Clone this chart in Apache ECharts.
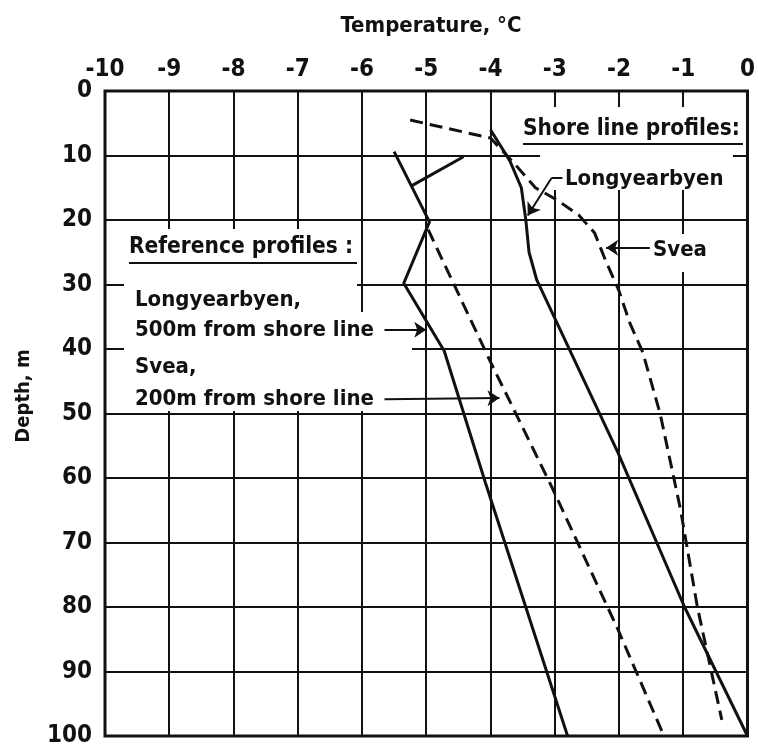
<!DOCTYPE html>
<html>
<head>
<meta charset="utf-8">
<script src="https://cdn.jsdelivr.net/npm/echarts@6/dist/echarts.min.js"></script>
<style>
  html, body { margin: 0; padding: 0; background: #fff; }
  #chart { width: 758px; height: 748px; }
</style>
</head>
<body>
<div id="chart"></div>
<script>
// Ground temperature profiles, Svalbard: [temperature °C, depth m]
const tempTicks = ['-10', '-9', '-8', '-7', '-6', '-5', '-4', '-3', '-2', '-1', '0'];
const depthTicks = ['0', '10', '20', '30', '40', '50', '60', '70', '80', '90', '100'];

// Shore line profiles
const shoreLongyearbyen = [[-4.0, 6.0], [-3.7, 10.8], [-3.52, 15], [-3.45, 20], [-3.4, 25],
  [-3.28, 29.3], [-2.02, 56], [-0.98, 80], [0, 100]];
const shoreSvea = [[-5.25, 4.5], [-4.0, 7.3], [-3.65, 11], [-3.3, 15], [-2.95, 17], [-2.62, 19.3],
  [-2.38, 22], [-2.22, 26], [-2.0, 31], [-1.83, 36], [-1.63, 40.5], [-1.36, 50], [-1.04, 65],
  [-0.78, 80], [-0.4, 97.5]];

// Reference profiles
const refLongyearbyen = [[-5.5, 9.4], [-4.95, 20.3], [-5.35, 29.8], [-4.72, 40.3], [-4.08, 60.7], [-2.8, 100]];
const refLongyearbyenSpur = [[-5.23, 14.7], [-4.42, 10.2]];
const refSvea = [[-4.97, 21.5], [-4.0, 42], [-3.05, 61.3], [-2.02, 83.4], [-1.3, 100]];

// Label leaders: [from, to] in temperature/depth
const leaderPlain = [[[-2.88, 13.5], [-3.05, 13.5]]];
const leaderArrows = [
  [[-3.05, 13.5], [-3.42, 19.3]],
  [[-1.52, 24.3], [-2.2, 24.3]],
  [[-5.65, 37.0], [-5.0, 37.0]],
  [[-5.65, 47.8], [-3.86, 47.6]]
];

const FONT = '"DejaVu Sans Condensed", "DejaVu Sans", sans-serif';
const TICK_FONT = '"Liberation Sans Narrow", "DejaVu Sans Condensed", sans-serif';
const INK = '#111';

function txt(x, y, s, size, align) {
  return {
    type: 'text', z: 10, x: x, y: y,
    style: { text: s, fill: INK, font: 'bold ' + size + 'px ' + FONT,
      textAlign: align || 'left', textVerticalAlign: 'middle' }
  };
}
function blank(x, y, w, h) {
  return { type: 'rect', z: 1, shape: { x: x, y: y, width: w, height: h }, style: { fill: '#fff' }, silent: true };
}
function rule(x1, x2, y) {
  return { type: 'line', z: 10, shape: { x1: x1, y1: y, x2: x2, y2: y }, style: { stroke: INK, lineWidth: 2 } };
}

const solid = { color: INK, width: 3, type: 'solid' };
const dashed = { color: INK, width: 3, type: [13, 7] };

function profile(data, style) {
  return { type: 'line', data: data, showSymbol: false, symbol: 'none', lineStyle: style, z: 3, animation: false };
}

const chart = echarts.init(document.getElementById('chart'));
chart.setOption({
  animation: false,
  backgroundColor: '#fff',
  grid: { show: true, left: 105, right: 10, top: 91, bottom: 11, borderColor: INK, borderWidth: 3 },
  xAxis: {
    type: 'value', position: 'top', min: -10, max: 0, interval: 1,
    axisLine: { show: false }, axisTick: { show: false },
    axisLabel: {
      margin: 9, color: INK, fontFamily: TICK_FONT, fontWeight: 'bold', fontSize: 24,
      formatter: v => tempTicks[Math.round(v) + 10]
    },
    splitLine: { show: true, lineStyle: { color: INK, width: 2 } }
  },
  yAxis: {
    type: 'value', inverse: true, min: 0, max: 100, interval: 10,
    axisLine: { show: false }, axisTick: { show: false },
    axisLabel: {
      margin: 13, color: INK, fontFamily: TICK_FONT, fontWeight: 'bold', fontSize: 24,
      formatter: v => depthTicks[Math.round(v / 10)]
    },
    splitLine: { show: true, lineStyle: { color: INK, width: 2 } }
  },
  series: [
    profile(shoreLongyearbyen, solid),
    profile(shoreSvea, dashed),
    profile(refLongyearbyen, solid),
    profile(refLongyearbyenSpur, solid),
    profile(refSvea, dashed),
    {
      type: 'lines', coordinateSystem: 'cartesian2d', z: 4,
      data: leaderPlain.map(c => ({ coords: c })),
      lineStyle: { color: INK, width: 2, opacity: 1 }, symbol: ['none', 'none']
    },
    {
      type: 'lines', coordinateSystem: 'cartesian2d', z: 4,
      data: leaderArrows.map(c => ({ coords: c })),
      lineStyle: { color: INK, width: 2, opacity: 1 },
      symbol: ['none', 'arrow'], symbolSize: [0, 12]
    }
  ],
  graphic: [
    // cleared areas behind the notes
    blank(124, 229, 233, 182),
    blank(357, 312, 55, 99),
    blank(540, 107, 193, 83),
    blank(645, 234, 67, 38),
    // axis titles
    txt(431, 26, 'Temperature, °C', 22, 'center'),
    { type: 'text', z: 10, x: 24, y: 396, rotation: Math.PI / 2,
      style: { text: 'Depth, m', fill: INK, font: 'bold 20px ' + FONT, textAlign: 'center', textVerticalAlign: 'middle' } },
    // notes
    txt(523, 129, 'Shore line profiles:', 22.5),
    rule(523, 743, 144),
    txt(565, 179, 'Longyearbyen', 22),
    txt(653, 250, 'Svea', 22),
    txt(129, 247, 'Reference profiles :', 22.5),
    rule(129, 357, 263),
    txt(135, 300, 'Longyearbyen,', 22),
    txt(135, 330, '500m from shore line', 22),
    txt(135, 367, 'Svea,', 22),
    txt(135, 399, '200m from shore line', 22)
  ]
});
</script>
</body>
</html>
